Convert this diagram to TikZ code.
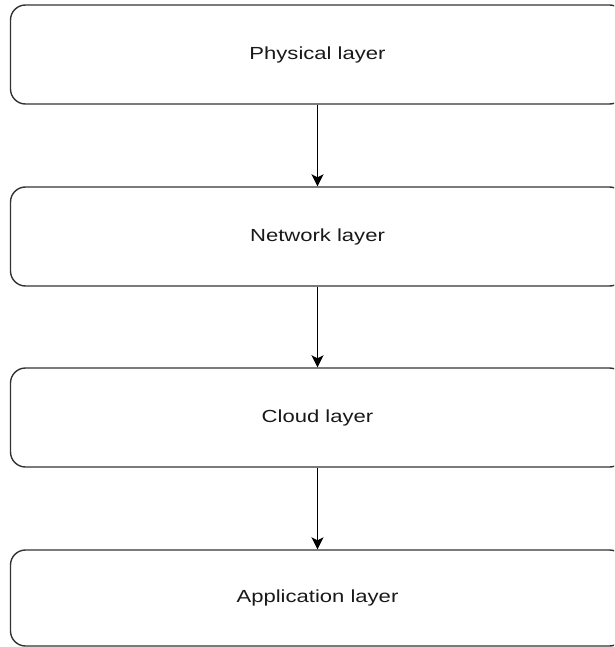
\documentclass[tikz,border=0pt]{standalone}
\usepackage{fontspec}
\setmainfont{Liberation Sans}
\usetikzlibrary{arrows.meta}
\begin{document}
\begin{tikzpicture}[x=1pt,y=-1pt,
  layerbox/.style={draw=black!80, line width=1.4pt, rounded corners=15pt, fill=white,
    minimum width=614pt, minimum height=99pt, inner sep=0pt,
    font=\fontsize{17.5pt}{20pt}\selectfont, text=black!90},
  flow/.style={draw=black, line width=1.4pt, -{Stealth[length=12pt,width=12pt,inset=3pt]}}]
\useasboundingbox (0,0) rectangle (614,647);
\clip (0,0) rectangle (614,647);
\fill[white] (0,0) rectangle (614,647);
\node[layerbox] (phys) at (317.5,54.5) {\scalebox{1.26}[1]{Physical layer}};
\node[layerbox] (net) at (317.5,236.5) {\scalebox{1.26}[1]{Network layer}};
\node[layerbox] (cloud) at (317.5,417.5) {\scalebox{1.26}[1]{Cloud layer}};
\node[layerbox, minimum height=96pt] (app) at (317.5,598) {\scalebox{1.26}[1]{Application layer}};
\draw[flow] (phys) -- (net);
\draw[flow] (net) -- (cloud);
\draw[flow] (cloud) -- (app);
\end{tikzpicture}
\end{document}
